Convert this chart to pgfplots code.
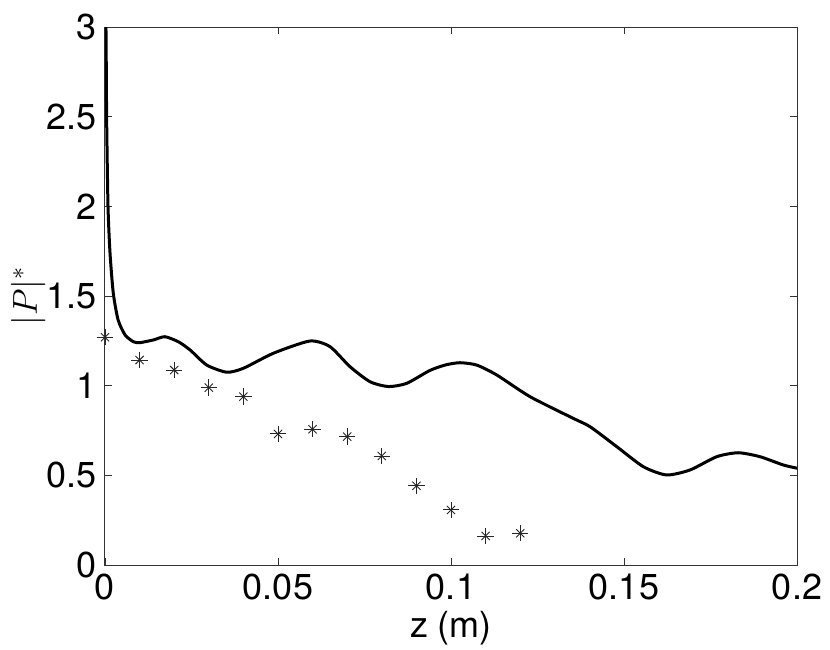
\documentclass[border=0pt]{standalone}
\usepackage{fontspec}
\setmainfont{TeX Gyre Heros}
\usepackage{pgfplots}
\pgfplotsset{compat=1.18}
\begin{document}
\begin{tikzpicture}
\path[use as bounding box] (-52.5pt,-42pt) rectangle (362.5pt,282.5pt);
\begin{axis}[
  at={(0pt,0pt)}, anchor=origin,
  scale only axis, width=346pt, height=269pt,
  xmin=0, xmax=0.2, ymin=0, ymax=3,
  xtick={0,0.05,0.1,0.15,0.2},
  ytick={0,0.5,1,1.5,2,2.5,3},
  xticklabels={0,0.05,0.1,0.15,0.2},
  yticklabels={0,0.5,1,1.5,2,2.5,3},
  tick align=inside, major tick length=3.5pt,
  xtick pos=both, ytick pos=both,
  axis line style={line width=0.5pt, black!80},
  tick style={line width=0.4pt, black!80},
  tick label style={font=\fontsize{18}{20}\selectfont},
  xticklabel style={yshift=-1pt},
  yticklabel style={xshift=-0.5pt},
  xlabel={z (m)},
  ylabel={$|P|^*$},
  label style={font=\fontsize{18}{20}\selectfont},
  x label style={at={(axis description cs:0.5,-0.117)},anchor=center},
  y label style={at={(axis description cs:-0.111,0.5)},anchor=center},
  clip=true,
]
\addplot[black, line width=1.5pt, smooth, tension=0.4] coordinates {
(0,3.05) (0.00029,2.98) (0.00048,2.48) (0.00087,2.00) (0.00145,1.74) (0.0024,1.515)
(0.0038,1.366) (0.0058,1.283) (0.0082,1.245) (0.0101,1.240) (0.014,1.255)
(0.0173,1.273) (0.0212,1.245) (0.0246,1.199) (0.0294,1.115) (0.0352,1.075)
(0.040,1.097) (0.0487,1.181) (0.0592,1.249) (0.065,1.218) (0.0708,1.106)
(0.0766,1.022) (0.0819,0.995) (0.0872,1.013) (0.0939,1.085) (0.0985,1.116) (0.1026,1.128)
(0.1074,1.115) (0.1132,1.060) (0.1228,0.939) (0.1353,0.818) (0.1402,0.771)
(0.1479,0.660) (0.1556,0.548) (0.1623,0.502) (0.1691,0.530) (0.1768,0.604)
(0.183,0.626) (0.1893,0.604) (0.196,0.558) (0.2002,0.539)
};
\addplot[black!85, only marks, mark=+, mark size=4.1pt, line width=0.45pt] coordinates {
(0,1.27) (0.01,1.143) (0.02,1.087) (0.03,0.989) (0.04,0.939) (0.05,0.731)
(0.06,0.757) (0.07,0.716) (0.08,0.608) (0.09,0.442) (0.10,0.307) (0.11,0.162) (0.12,0.177)
};
\addplot[black!85, only marks, mark=x, mark size=2.9pt, line width=0.45pt] coordinates {
(0,1.27) (0.01,1.143) (0.02,1.087) (0.03,0.989) (0.04,0.939) (0.05,0.731)
(0.06,0.757) (0.07,0.716) (0.08,0.608) (0.09,0.442) (0.10,0.307) (0.11,0.162) (0.12,0.177)
};
\end{axis}
\end{tikzpicture}
\end{document}
